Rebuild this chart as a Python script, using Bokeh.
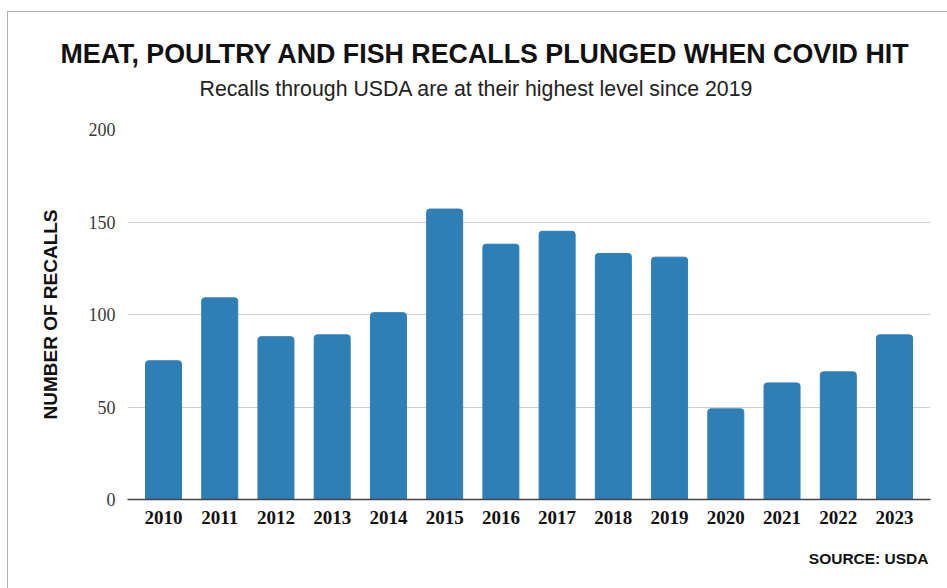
from bokeh.plotting import figure
from bokeh.models import Title, FactorRange, Range1d, ColumnDataSource, InlineStyleSheet
from bokeh.embed import file_html
from bokeh.resources import INLINE

years = ["2010", "2011", "2012", "2013", "2014", "2015", "2016",
         "2017", "2018", "2019", "2020", "2021", "2022", "2023"]
recalls = [75, 109, 88, 89, 101, 157, 138, 145, 133, 131, 49, 63, 69, 89]
y_ticks = [0, 50, 100, 150, 200]

title_text = "MEAT, POULTRY AND FISH RECALLS PLUNGED WHEN COVID HIT"
subtitle_text = "Recalls through USDA are at their highest level since 2019"
source_text = "SOURCE: USDA"
y_label = "NUMBER OF RECALLS"

src = ColumnDataSource(dict(year=years, n=recalls))

p = figure(width=947, height=588, output_backend="svg", toolbar_location=None,
           x_range=FactorRange(*years, range_padding=0.02),
           y_range=Range1d(0, 200),
           min_border_left=127, min_border_right=17,
           min_border_top=129, min_border_bottom=89)

p.vbar(x="year", top="n", width=0.64, source=src, color="#2e7fb6",
       border_radius=(3, 3, 0, 0))

p.outline_line_color = None
p.xgrid.grid_line_color = None
p.ygrid.grid_line_color = "#d0d0d0"
p.ygrid.grid_line_width = 1

p.yaxis.ticker = y_ticks
p.yaxis.axis_line_color = None
p.yaxis.major_tick_line_color = None
p.yaxis.minor_tick_line_color = None
p.yaxis.major_label_text_font = "Liberation Serif"
p.yaxis.major_label_text_font_size = "18px"
p.yaxis.major_label_text_color = "#3a3a3a"
p.yaxis.major_label_standoff = 6
p.yaxis.axis_label = y_label
p.yaxis.axis_label_text_font = "Liberation Sans"
p.yaxis.axis_label_text_font_style = "bold"
p.yaxis.axis_label_text_font_size = "19px"
p.yaxis.axis_label_text_color = "#111111"
p.yaxis.axis_label_standoff = 25

p.xaxis.axis_line_color = "#444444"
p.xaxis.axis_line_width = 1.5
p.xaxis.major_tick_line_color = None
p.xaxis.minor_tick_line_color = None
p.xaxis.major_label_text_font = "Liberation Serif"
p.xaxis.major_label_text_font_style = "bold"
p.xaxis.major_label_text_font_size = "19px"
p.xaxis.major_label_text_color = "#111111"
p.xaxis.major_label_standoff = 5

# stacked above the frame: spacer, subtitle, title (closest first)
p.add_layout(Title(text=" ", text_font_size="10px", standoff=15), "above")
p.add_layout(Title(text=subtitle_text, align="left", offset=72, standoff=2,
                   text_font="Liberation Sans", text_font_style="normal",
                   text_font_size="21.3px", text_color="#222222"), "above")
p.add_layout(Title(text=title_text, align="left", offset=-67, standoff=9,
                   text_font="Liberation Sans", text_font_style="bold",
                   text_font_size="26.8px", text_color="#111111"), "above")
p.add_layout(Title(text=source_text, align="right", offset=2, standoff=43,
                   text_font="Liberation Sans", text_font_style="bold",
                   text_font_size="15.5px", text_color="#111111"), "below")

p.stylesheets = [InlineStyleSheet(css=""":host::after {
  content: ""; position: absolute; left: 7px; top: 11px;
  width: 1200px; height: 1200px; border: 1.5px solid #b0b0b0;
  pointer-events: none; box-sizing: border-box;
}""")]

open("out.html", "w").write(file_html(p, INLINE))
